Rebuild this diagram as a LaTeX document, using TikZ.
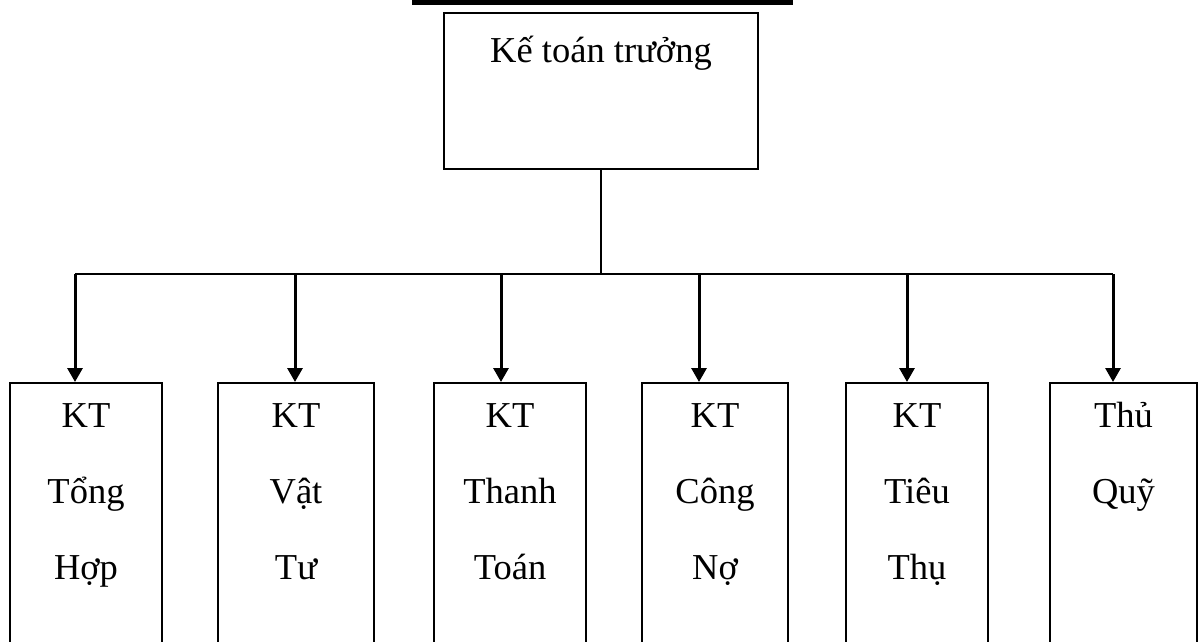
\documentclass[tikz,border=0pt]{standalone}
\usepackage{fontspec}
\setmainfont{Liberation Serif}
\usetikzlibrary{arrows.meta}
% invisible strut that fixes the height of a label's first line
\newcommand{\firstlinestrut}{\rule{0pt}{30pt}}
\begin{document}
\begin{tikzpicture}[x=1pt,y=-1pt,
  box/.style={draw,line width=2pt,rectangle,inner sep=0pt,anchor=north west},
  lbl/.style={anchor=north,inner sep=0pt,align=center,
              font=\fontsize{36.5}{76}\selectfont},
  bus/.style={line width=2pt},
  arr/.style={line width=3pt,-{Triangle[width=15pt,length=14pt]}}]
\useasboundingbox (0,0) rectangle (1202,642);
\clip (0,0) rectangle (1202,642);

% heading rule
\fill (412,0) rectangle (793,5);

% chief accountant
\node[box,minimum width=314pt,minimum height=156pt] (top) at (443,12) {};
\node[lbl] (toplbl) at ([yshift=-20pt]top.north) {\firstlinestrut Kế toán trưởng};

% departments
\node[box,minimum width=152pt,minimum height=320pt] (b1) at (9,382) {};
\node[box,minimum width=156pt,minimum height=320pt] (b2) at (217,382) {};
\node[box,minimum width=152pt,minimum height=320pt] (b3) at (433,382) {};
\node[box,minimum width=146pt,minimum height=320pt] (b4) at (641,382) {};
\node[box,minimum width=142pt,minimum height=320pt] (b5) at (845,382) {};
\node[box,minimum width=147pt,minimum height=320pt] (b6) at (1049,382) {};

\node[lbl] (l1) at ([yshift=-15pt]b1.north) {\firstlinestrut KT\\Tổng\\Hợp};
\node[lbl] (l2) at ([yshift=-15pt]b2.north) {\firstlinestrut KT\\Vật\\Tư};
\node[lbl] (l3) at ([yshift=-15pt]b3.north) {\firstlinestrut KT\\Thanh\\Toán};
\node[lbl] (l4) at ([yshift=-15pt]b4.north) {\firstlinestrut KT\\Công\\Nợ};
\node[lbl] (l5) at ([yshift=-15pt]b5.north) {\firstlinestrut KT\\Tiêu\\Thụ};
\node[lbl] (l6) at ([yshift=-15pt]b6.north) {\firstlinestrut Thủ\\Quỹ};

% distribution bus
\coordinate (t1) at (75,274);
\coordinate (t2) at (295,274);
\coordinate (t3) at (501,274);
\coordinate (t4) at (699,274);
\coordinate (t5) at (907,274);
\coordinate (t6) at (1113,274);

\draw[bus] (top.south) -- (top.south |- t1);
\draw[bus] (t1) -- (t6);

\foreach \i in {1,...,6}
  \draw[arr] (t\i) -- (t\i |- b\i.north);
\end{tikzpicture}
\end{document}
